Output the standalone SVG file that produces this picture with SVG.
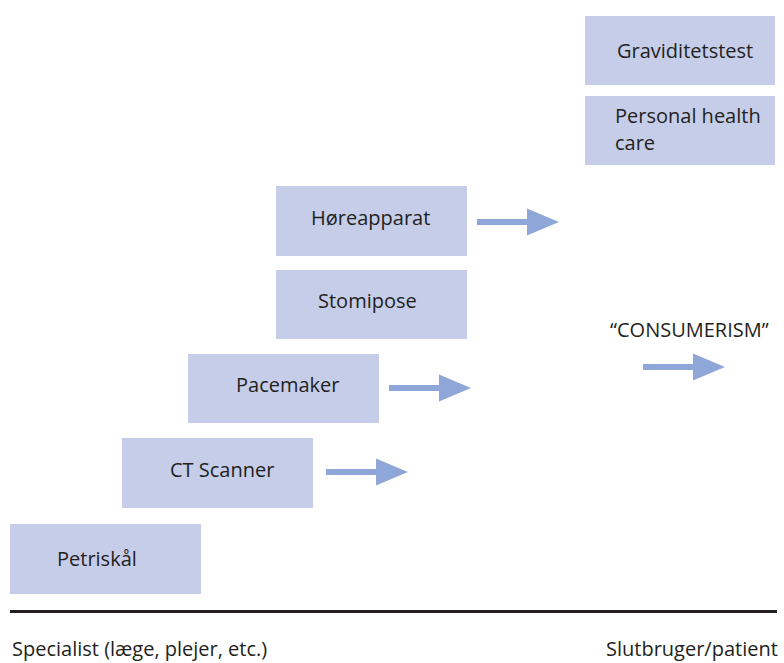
<svg xmlns="http://www.w3.org/2000/svg" width="784" height="663" viewBox="0 0 784 663">
  <defs>
    <style>
      .box { fill: #c5cde9; }
      .lbl { font-family: "Open Sans", "Noto Sans", sans-serif; font-size: 20px; fill: #231f20; }
      .arrow { fill: #8fa7d8; }
    </style>
    <!-- one rightward block arrow, 82px long, centred on y=0 -->
    <path id="blockArrow" d="M0,-3 L50,-3 L50,-13.5 L82,0 L50,13.5 L50,3 L0,3 Z"/>
  </defs>
  <rect width="784" height="663" fill="#ffffff"/>

  <g id="node-graviditetstest">
    <rect class="box" x="585" y="16" width="190" height="69"/>
    <text class="lbl" x="617" y="58">Graviditetstest</text>
  </g>
  <g id="node-personal-health-care">
    <rect class="box" x="585" y="96" width="190" height="69"/>
    <text class="lbl" x="615" y="123">Personal health</text>
    <text class="lbl" x="615" y="150">care</text>
  </g>
  <g id="node-hoereapparat">
    <rect class="box" x="276" y="186" width="191" height="70"/>
    <text class="lbl" x="311" y="225">Høreapparat</text>
  </g>
  <g id="node-stomipose">
    <rect class="box" x="276" y="270" width="191" height="69"/>
    <text class="lbl" x="318" y="308">Stomipose</text>
  </g>
  <g id="node-pacemaker">
    <rect class="box" x="188" y="354" width="191" height="69"/>
    <text class="lbl" x="236" y="392">Pacemaker</text>
  </g>
  <g id="node-ct-scanner">
    <rect class="box" x="122" y="438" width="191" height="70"/>
    <text class="lbl" x="170" y="477">CT Scanner</text>
  </g>
  <g id="node-petriskaal">
    <rect class="box" x="10" y="524" width="191" height="70"/>
    <text class="lbl" x="57" y="566">Petriskål</text>
  </g>

  <g id="node-consumerism">
    <text class="lbl" x="610" y="337">“CONSUMERISM”</text>
  </g>

  <g id="connectors">
    <use href="#blockArrow" class="arrow" x="477" y="222"/>
    <use href="#blockArrow" class="arrow" x="389" y="388"/>
    <use href="#blockArrow" class="arrow" x="326" y="472"/>
    <use href="#blockArrow" class="arrow" x="643" y="367"/>
  </g>

  <g id="axis">
    <line x1="10" y1="611.5" x2="777" y2="611.5" stroke="#231f20" stroke-width="3"/>
    <text class="lbl" x="12" y="656">Specialist (læge, plejer, etc.)</text>
    <text class="lbl" x="606" y="656">Slutbruger/patient</text>
  </g>
</svg>
